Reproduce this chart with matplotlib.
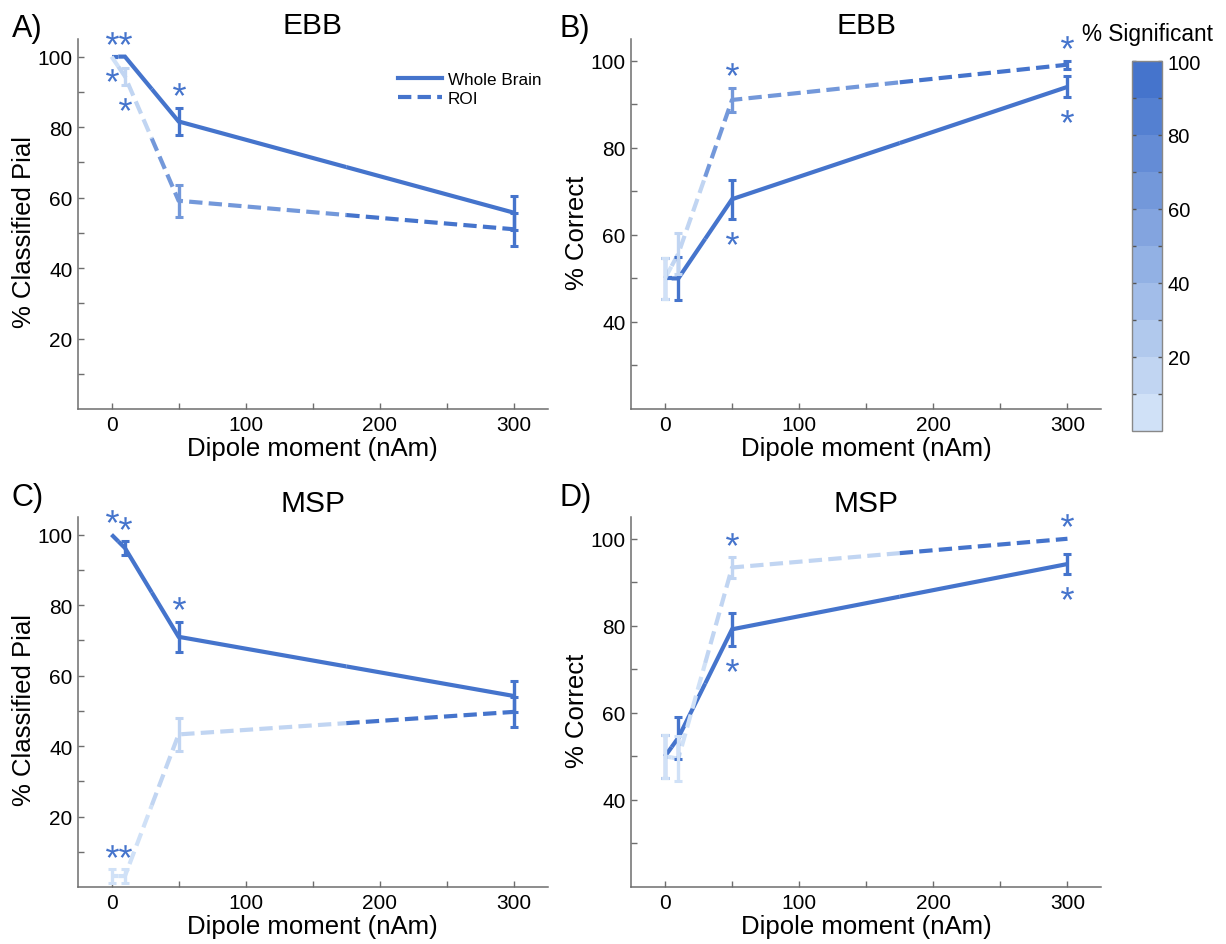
import numpy as np
import matplotlib
matplotlib.use('Agg')
import matplotlib.pyplot as plt
from matplotlib.colors import ListedColormap, BoundaryNorm, to_rgb
from matplotlib.lines import Line2D
from matplotlib.path import Path
from matplotlib.textpath import TextPath
from matplotlib.font_manager import FontProperties
import matplotlib.transforms as mtransforms
import matplotlib.cm as cm

plt.rcParams['font.family'] = ['Liberation Sans', 'DejaVu Sans']

# ---------------- data ----------------
dipole = [0, 10, 50, 300]

# A) EBB, % classified pial
a_wb = [100, 100, 81.6, 55.7]
a_wb_err = [0, 0, 3.8, 4.8]
a_wb_sig = [100, 100, 100, 100]
a_wb_star = [1, 1, 1, 0]
a_roi = [100, 94.4, 59.1, 51.0]
a_roi_err = [0, 2.4, 4.5, 4.7]
a_roi_sig = [5, 15, 65, 95]
a_roi_star = [-1, -1, 0, 0]

# B) EBB, % correct
b_wb = [50, 50, 68.2, 94.0]
b_wb_err = [4.8, 4.9, 4.5, 2.4]
b_wb_sig = [100, 100, 100, 100]
b_wb_star = [0, 0, -1, -1]
b_roi = [50, 55.7, 91.0, 99.1]
b_roi_err = [4.8, 4.8, 2.7, 0.9]
b_roi_sig = [5, 15, 65, 95]
b_roi_star = [0, 0, 1, 1]

# C) MSP, % classified pial
c_wb = [100, 96.2, 71.0, 54.2]
c_wb_err = [0, 1.9, 4.2, 4.4]
c_wb_sig = [100, 100, 100, 100]
c_wb_star = [1, 1, 1, 0]
c_roi = [3.1, 3.1, 43.3, 49.7]
c_roi_err = [1.9, 1.9, 4.6, 4.3]
c_roi_sig = [5, 5, 15, 95]
c_roi_star = [1, 1, 0, 0]

# D) MSP, % correct
d_wb = [50, 54.3, 79.2, 94.2]
d_wb_err = [5.0, 4.8, 3.8, 2.3]
d_wb_sig = [100, 100, 100, 100]
d_wb_star = [0, 0, -1, -1]
d_roi = [50, 49.5, 93.4, 100]
d_roi_err = [5.0, 5.2, 2.3, 0]
d_roi_sig = [5, 5, 15, 95]
d_roi_star = [0, 0, 1, 1]

panel_letters = ['A)', 'B)', 'C)', 'D)']
panel_titles = ['EBB', 'EBB', 'MSP', 'MSP']
y_labels = ['% Classified Pial', '% Correct', '% Classified Pial', '% Correct']
series_labels = ['Whole Brain', 'ROI']
cbar_label = '% Significant'
x_label = 'Dipole moment (nAm)'

# ---------------- style ----------------
light = np.array(to_rgb('#D0E1F7'))
dark = np.array(to_rgb('#4574CC'))
cmap = ListedColormap([tuple(light + (dark - light) * k / 9) for k in range(10)])
norm = BoundaryNorm(np.arange(0, 101, 10), cmap.N)
DARK = tuple(dark)
SPINE = '#6e6e6e'
LW = 3.0
DASH = (0, (3.2, 1.5))


def sig_color(s):
    return cmap(norm(min(s, 99.9)))


# centred asterisk glyph as a marker path
tp = TextPath((0, 0), '*', size=1, prop=FontProperties(family='Liberation Sans'))
codes = np.array(tp.codes)
v = np.array(tp.vertices, float)
real = codes != Path.CLOSEPOLY
cen = (v[real].min(0) + v[real].max(0)) / 2
v = v - cen
v[~real] = 0.0
STAR = Path(v, codes)

fig = plt.figure(figsize=(12.26, 9.45), dpi=100)
W, H = 1226.0, 945.0


def rect(l, t, r, b):
    return [l / W, 1 - b / H, (r - l) / W, (b - t) / H]


rects = [rect(78, 40, 547.5, 410), rect(631.4, 40, 1101, 410),
         rect(78, 518, 547.5, 888), rect(631.4, 518, 1101, 888)]
letter_pos = [(12, 37), (559, 37), (12, 506), (559, 506)]

panels = [
    (a_wb, a_wb_err, a_wb_sig, a_wb_star, a_roi, a_roi_err, a_roi_sig, a_roi_star, 0),
    (b_wb, b_wb_err, b_wb_sig, b_wb_star, b_roi, b_roi_err, b_roi_sig, b_roi_star, 20),
    (c_wb, c_wb_err, c_wb_sig, c_wb_star, c_roi, c_roi_err, c_roi_sig, c_roi_star, 0),
    (d_wb, d_wb_err, d_wb_sig, d_wb_star, d_roi, d_roi_err, d_roi_sig, d_roi_star, 20),
]


def draw_series(ax, xs, ys, errs, sigs, stars, ls):
    xs = np.asarray(xs, float)
    ys = np.asarray(ys, float)
    n = len(xs)
    for i in range(n):
        px, py = [], []
        if i > 0:
            px.append((xs[i - 1] + xs[i]) / 2)
            py.append((ys[i - 1] + ys[i]) / 2)
        px.append(xs[i]); py.append(ys[i])
        if i < n - 1:
            px.append((xs[i] + xs[i + 1]) / 2)
            py.append((ys[i] + ys[i + 1]) / 2)
        ax.plot(px, py, color=sig_color(sigs[i]), lw=LW, ls=ls,
                solid_joinstyle='miter', solid_capstyle='butt',
                dash_capstyle='butt', zorder=3)
    for i in range(n):
        if errs[i] > 0:
            ax.errorbar([xs[i]], [ys[i]], yerr=[[errs[i]], [errs[i]]], fmt='none',
                        ecolor=sig_color(sigs[i]), elinewidth=2.4, capsize=3.2,
                        capthick=2.2, zorder=4)
    for i in range(n):
        if stars[i] != 0:
            dy = 13.5 * stars[i] / 72.0
            tr = ax.transData + mtransforms.ScaledTranslation(0, dy, fig.dpi_scale_trans)
            yy = ys[i] + stars[i] * errs[i]
            ax.plot([xs[i]], [yy], marker=STAR, markersize=9.3, color=DARK,
                    markeredgewidth=0, transform=tr, clip_on=False, zorder=5)


for k, (wb, wbe, wbs, wbst, roi, roie, rois, roist, ymin) in enumerate(panels):
    ax = fig.add_axes(rects[k])
    draw_series(ax, dipole, wb, wbe, wbs, wbst, '-')
    draw_series(ax, dipole, roi, roie, rois, roist, DASH)
    ax.set_xlim(-25, 325)
    ax.set_ylim(ymin, 105)
    ax.set_xticks([0, 100, 200, 300])
    ax.set_xticks([50, 150, 250], minor=True)
    if ymin == 0:
        ax.set_yticks([20, 40, 60, 80, 100])
        ax.set_yticks([10, 30, 50, 70, 90], minor=True)
    else:
        ax.set_yticks([40, 60, 80, 100])
        ax.set_yticks([30, 50, 70, 90], minor=True)
    for s in ['top', 'right']:
        ax.spines[s].set_visible(False)
    for s in ['left', 'bottom']:
        ax.spines[s].set_color(SPINE)
        ax.spines[s].set_linewidth(1.1)
    ax.tick_params(which='both', direction='in', length=4, width=1.0,
                   color=SPINE, labelsize=15, pad=4)
    ax.set_xlabel(x_label, fontsize=18.5)
    ax.xaxis.set_label_coords(0.5, -0.072)
    ax.set_ylabel(y_labels[k], fontsize=18.5)
    ax.yaxis.set_label_coords(-0.09, 0.48)
    ax.set_title(panel_titles[k], fontsize=21.5, pad=0)
    lx, ly = letter_pos[k]
    fig.text(lx / W, 1 - ly / H, panel_letters[k], fontsize=22, ha='left', va='baseline')
    if k == 0:
        handles = [Line2D([], [], color=DARK, lw=LW, ls='-'),
                   Line2D([], [], color=DARK, lw=LW, ls=DASH)]
        ax.legend(handles, series_labels, loc='upper left',
                  bbox_to_anchor=(0.6816, 0.912), frameon=False, fontsize=12.3,
                  handlelength=2.6, handletextpad=0.3, labelspacing=0.25,
                  borderpad=0, borderaxespad=0)

# colorbar
cax = fig.add_axes(rect(1132, 62, 1162, 432))
sm = cm.ScalarMappable(norm=norm, cmap=cmap)
cb = fig.colorbar(sm, cax=cax, ticks=[20, 40, 60, 80, 100])
cb.outline.set_edgecolor('#888888')
cb.outline.set_linewidth(1.0)
cax.set_yticks(np.arange(10, 100, 10), minor=True)
cax.tick_params(which='both', direction='in', length=3, width=1.0, color='#555555',
                left=True, right=True, labelsize=14.5, pad=4)
fig.text(1082 / W, 1 - 41 / H, cbar_label, fontsize=16.3, ha='left', va='baseline')

fig.savefig('out.png', dpi=100, facecolor='white')
